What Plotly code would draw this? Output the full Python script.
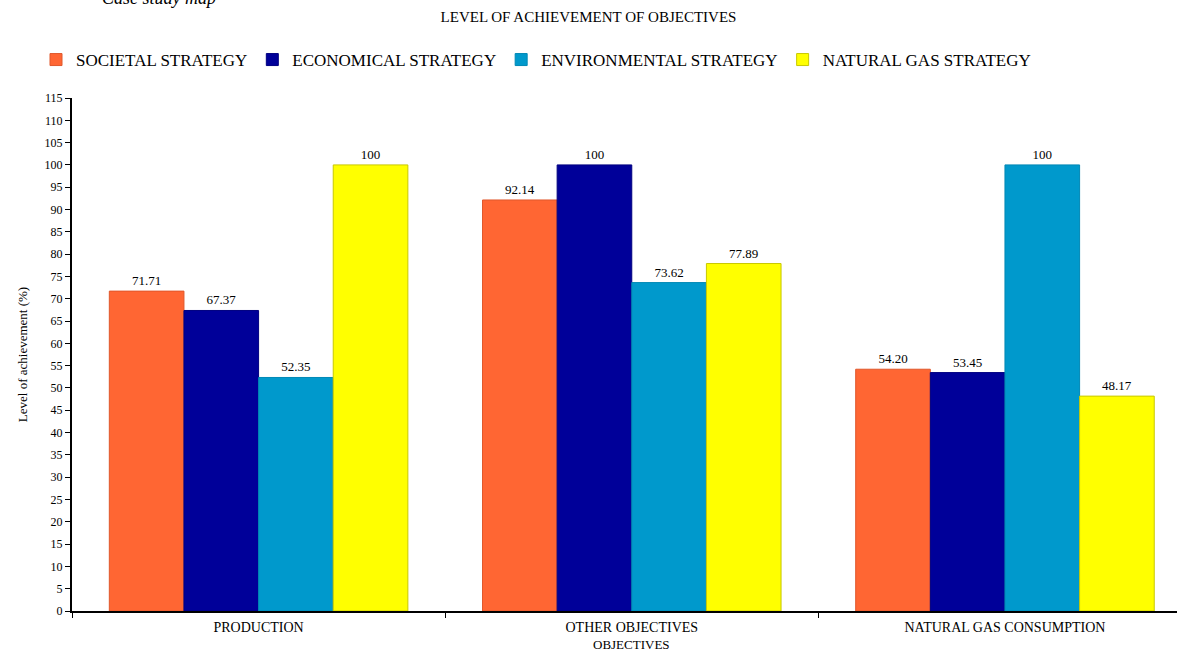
import plotly.graph_objects as go

categories = ["PRODUCTION", "OTHER OBJECTIVES", "NATURAL GAS CONSUMPTION"]
series_names = ["SOCIETAL STRATEGY", "ECONOMICAL STRATEGY", "ENVIRONMENTAL STRATEGY", "NATURAL GAS STRATEGY"]
societal = [71.71, 92.14, 54.20]
economical = [67.37, 100, 53.45]
environmental = [52.35, 73.62, 100]
natural_gas = [100, 77.89, 48.17]
y_ticks = list(range(0, 120, 5))

colors = ["#FF6633", "#000099", "#0099CC", "#FFFF00"]
line_colors = ["#E0582C", "#000080", "#0088B5", "#C8C800"]
serif = "Liberation Serif, Times New Roman, serif"

def fmt(v):
    return str(int(v)) if float(v).is_integer() else f"{v:.2f}"

fig = go.Figure()
for name, vals, c, lc in zip(series_names, [societal, economical, environmental, natural_gas], colors, line_colors):
    fig.add_trace(go.Bar(
        name=name, x=categories, y=vals,
        marker=dict(color=c, line=dict(color=lc, width=1)),
        text=[fmt(v) for v in vals], textposition="outside",
        textfont=dict(family=serif, size=13, color="black"),
        cliponaxis=False,
    ))

fig.update_layout(
    width=1177, height=651,
    margin=dict(l=72, r=0, t=98, b=40),
    paper_bgcolor="white", plot_bgcolor="white",
    barmode="group", bargap=0.2, bargroupgap=0,
    font=dict(family=serif, size=12, color="black"),
    title=dict(text="LEVEL OF ACHIEVEMENT OF OBJECTIVES", x=0.5, xanchor="center",
               y=1 - 17/651, yanchor="middle", font=dict(family=serif, size=15, color="black")),
    legend=dict(orientation="h", xref="container", x=36/1177, yref="container", y=1 - 60/651,
                yanchor="middle", xanchor="left",
                font=dict(family=serif, size=17, color="black"), traceorder="normal",
                itemwidth=30),
    showlegend=True,
)
fig.update_xaxes(
    type="category", range=[-0.5, 2.461],
    showline=True, linecolor="black", linewidth=2,
    ticks="outside", tickson="boundaries", ticklen=5, tickcolor="black",
    tickfont=dict(family=serif, size=14, color="black"), ticklabelstandoff=2,
    showgrid=False, zeroline=False,
)
fig.update_yaxes(
    range=[0, 115], tickvals=y_ticks, ticktext=[str(v) for v in y_ticks],
    showline=True, linecolor="black", linewidth=2,
    ticks="outside", ticklen=5, tickcolor="black",
    tickfont=dict(family=serif, size=12, color="black"),
    showgrid=False, zeroline=False,
    title=dict(text="Level of achievement (%)", font=dict(family=serif, size=13, color="black"), standoff=14),
)
fig.add_annotation(x=1, y=0, xref="x", yref="paper", yshift=-33, yanchor="middle",
                   text="OBJECTIVES", showarrow=False, font=dict(family=serif, size=13, color="black"))
fig.add_annotation(x=30/1177, y=1 + 98/513, xref="paper", yref="paper", xanchor="left", yanchor="middle",
                   yshift=2, text="<i>Case study map</i>", showarrow=False,
                   font=dict(family=serif, size=18, color="black"))

fig.write_html("out.html")
